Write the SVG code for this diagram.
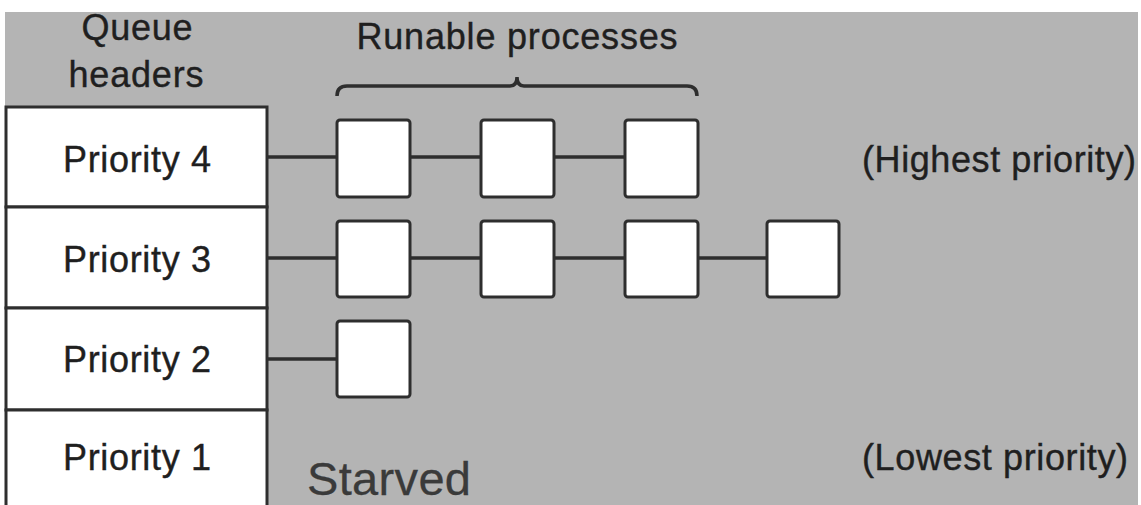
<svg xmlns="http://www.w3.org/2000/svg" width="1141" height="505" viewBox="0 0 1141 505">
  <style>
    .hdr { fill: #ffffff; stroke: #2e2e2e; stroke-width: 3; }
    .proc { fill: #ffffff; stroke: #2e2e2e; stroke-width: 3; }
    .link { stroke: #2e2e2e; stroke-width: 3.5; fill: none; }
    .lbl { font-family: "Liberation Sans", Arial, sans-serif; font-size: 36px; fill: #1f1f1f; stroke: #1f1f1f; stroke-width: 0.4; }
    .mid { text-anchor: middle; }
  </style>
  <rect x="0" y="0" width="1141" height="505" fill="#ffffff"/>
  <rect x="5" y="12" width="1133" height="493" fill="#b4b4b4"/>

  <!-- titles -->
  <g id="title-queue">
    <text class="lbl mid" x="137" y="40" textLength="111">Queue</text>
    <text class="lbl mid" x="136" y="87" textLength="135">headers</text>
  </g>
  <g id="title-runable">
    <text class="lbl mid" x="517" y="49" textLength="321">Runable processes</text>
    <path class="link" d="M337,96 Q337,86 347,86 L510,86 Q517,86 517,77 Q517,86 524,86 L687,86 Q697,86 697,96" stroke-width="3"/>
  </g>

  <!-- queue headers -->
  <g id="prio4">
    <rect class="hdr" x="6" y="107" width="261" height="100"/>
    <text class="lbl mid" x="137" y="172" textLength="148">Priority 4</text>
  </g>
  <g id="prio3">
    <rect class="hdr" x="6" y="207" width="261" height="101"/>
    <text class="lbl mid" x="137" y="272" textLength="148">Priority 3</text>
  </g>
  <g id="prio2">
    <rect class="hdr" x="6" y="308" width="261" height="102"/>
    <text class="lbl mid" x="137" y="372" textLength="148">Priority 2</text>
  </g>
  <g id="prio1">
    <rect class="hdr" x="6" y="410" width="261" height="100"/>
    <text class="lbl mid" x="137" y="470" textLength="148">Priority 1</text>
  </g>

  <!-- connectors between headers and process boxes -->
  <g id="connectors">
    <line class="link" x1="267" y1="157" x2="337" y2="157"/>
    <line class="link" x1="411" y1="157" x2="481" y2="157"/>
    <line class="link" x1="554" y1="157" x2="625" y2="157"/>
    <line class="link" x1="267" y1="258" x2="337" y2="258"/>
    <line class="link" x1="411" y1="258" x2="481" y2="258"/>
    <line class="link" x1="554" y1="258" x2="625" y2="258"/>
    <line class="link" x1="698" y1="258" x2="767" y2="258"/>
    <line class="link" x1="267" y1="359" x2="337" y2="359"/>
  </g>

  <!-- runnable processes -->
  <g id="p4-a"><rect class="proc" x="337" y="120" width="73" height="77" rx="3"/></g>
  <g id="p4-b"><rect class="proc" x="481" y="120" width="73" height="77" rx="3"/></g>
  <g id="p4-c"><rect class="proc" x="625" y="120" width="73" height="77" rx="3"/></g>
  <g id="p3-a"><rect class="proc" x="337" y="221" width="73" height="76" rx="3"/></g>
  <g id="p3-b"><rect class="proc" x="481" y="221" width="73" height="76" rx="3"/></g>
  <g id="p3-c"><rect class="proc" x="625" y="221" width="73" height="76" rx="3"/></g>
  <g id="p3-d"><rect class="proc" x="767" y="221" width="72" height="76" rx="3"/></g>
  <g id="p2-a"><rect class="proc" x="337" y="321" width="73" height="76" rx="3"/></g>

  <!-- side notes -->
  <g id="note-high"><text class="lbl" x="862" y="172" textLength="274">(Highest priority)</text></g>
  <g id="note-low"><text class="lbl" x="862" y="470" textLength="266">(Lowest priority)</text></g>
  <g id="note-starved"><text class="lbl" x="307" y="495" textLength="164" style="font-size:47px;fill:#3a3a3a;stroke:#3a3a3a;stroke-width:0.3">Starved</text></g>
</svg>
